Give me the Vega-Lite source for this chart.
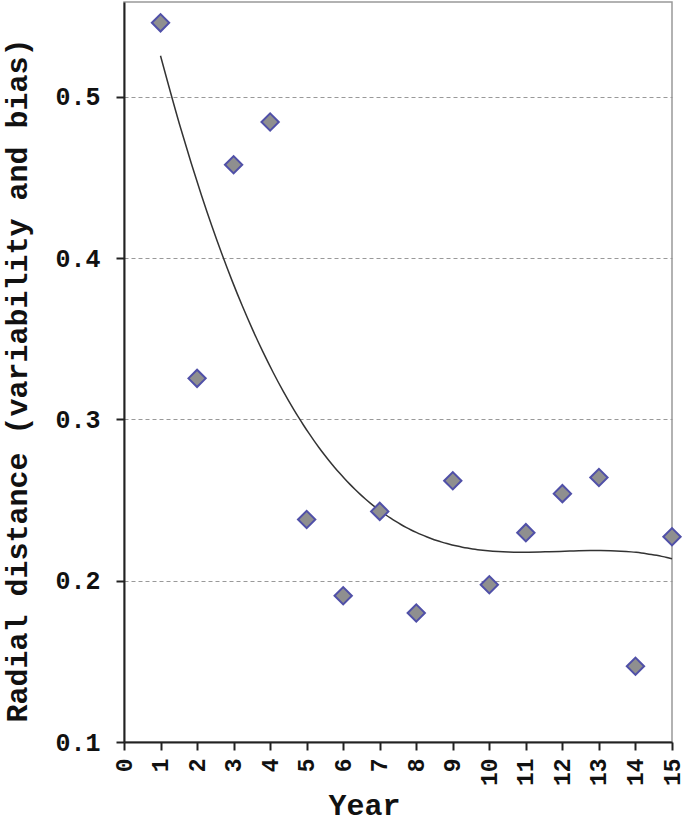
{
  "$schema": "https://vega.github.io/schema/vega-lite/v6.json",
  "width": 548,
  "height": 740,
  "autosize": "none",
  "padding": {"left": 124, "top": 2, "right": 13, "bottom": 85},
  "background": "white",
  "config": {
    "font": "Liberation Mono",
    "view": {"stroke": "#999999", "strokeWidth": 1.5},
    "axis": {
      "labelFont": "Liberation Mono",
      "labelFontWeight": "bold",
      "labelFontSize": 25,
      "labelColor": "#111111",
      "titleFont": "Liberation Mono",
      "titleFontWeight": "bold",
      "titleFontSize": 30,
      "titleColor": "#111111",
      "domainColor": "#222222",
      "domainWidth": 2,
      "tickColor": "#222222",
      "tickWidth": 2,
      "tickSize": 8
    }
  },
  "data": {
    "values": [
      {"year": 1, "dist": 0.546},
      {"year": 2, "dist": 0.3255},
      {"year": 3, "dist": 0.458},
      {"year": 4, "dist": 0.4845},
      {"year": 5, "dist": 0.238},
      {"year": 6, "dist": 0.1907},
      {"year": 7, "dist": 0.243},
      {"year": 8, "dist": 0.180},
      {"year": 9, "dist": 0.262},
      {"year": 10, "dist": 0.1975},
      {"year": 11, "dist": 0.2298},
      {"year": 12, "dist": 0.254},
      {"year": 13, "dist": 0.264},
      {"year": 14, "dist": 0.147},
      {"year": 15, "dist": 0.2273}
    ]
  },
  "encoding": {
    "x": {
      "field": "year",
      "type": "quantitative",
      "title": "Year",
      "scale": {"domain": [0, 15], "nice": false, "zero": false},
      "axis": {
        "values": [0,1,2,3,4,5,6,7,8,9,10,11,12,13,14,15],
        "labelAngle": -90,
        "labelPadding": 8,
        "labelFontSize": 23,
        "grid": false,
        "titleX": 240,
        "titleY": 72,
        "titleAlign": "center",
        "titleBaseline": "alphabetic"
      }
    },
    "y": {
      "field": "dist",
      "type": "quantitative",
      "title": "Radial distance (variability and bias)",
      "scale": {"domain": [0.1, 0.5589], "nice": false, "zero": false},
      "axis": {
        "values": [0.1, 0.2, 0.3, 0.4, 0.5],
        "format": ".1f",
        "labelPadding": 16,
        "grid": true,
        "gridColor": "#999999",
        "gridDash": [4, 3],
        "gridWidth": 1,
        "titleX": -98,
        "titleY": 378,
        "titleAngle": -90,
        "titleAlign": "center",
        "titleBaseline": "alphabetic"
      }
    }
  },
  "layer": [
    {
      "transform": [
        {"regression": "dist", "on": "year", "method": "poly", "order": 3}
      ],
      "mark": {"type": "line", "color": "#333333", "strokeWidth": 1.5, "interpolate": "monotone"}
    },
    {
      "mark": {
        "type": "point",
        "shape": "diamond",
        "size": 300,
        "filled": true,
        "fill": "#8f8f8f",
        "stroke": "#5050a8",
        "strokeWidth": 2,
        "opacity": 1
      }
    }
  ]
}
